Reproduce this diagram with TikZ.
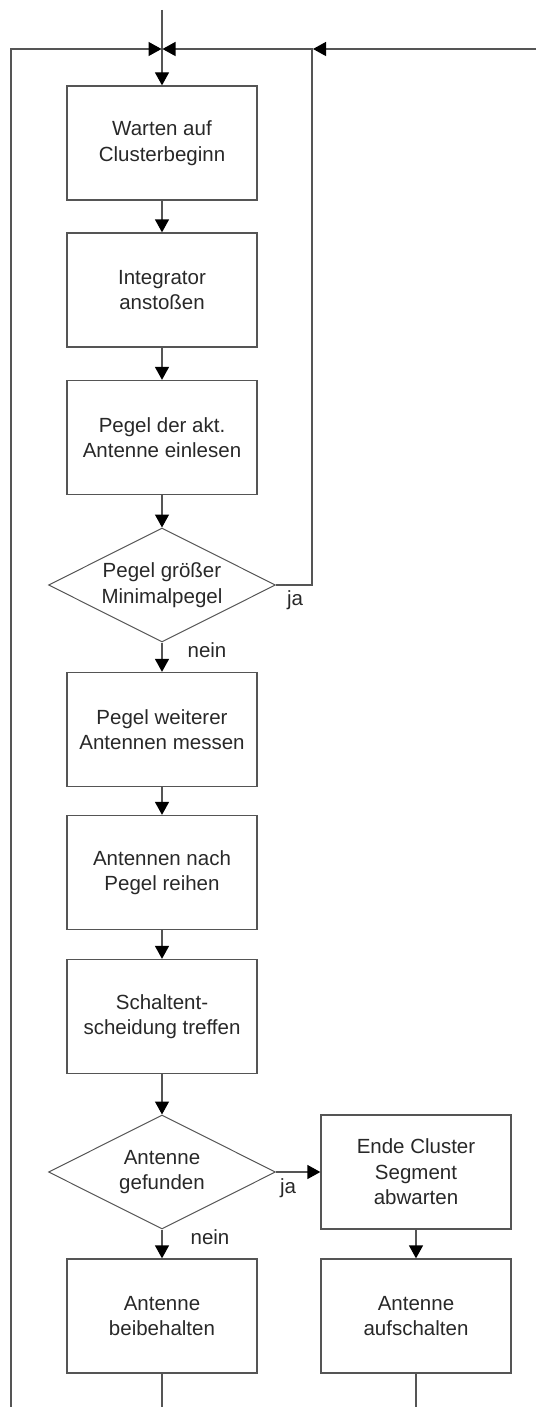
\documentclass[tikz,border=0pt]{standalone}
\usepackage{fontspec}
\setmainfont{Liberation Sans}
\usetikzlibrary{arrows.meta,shapes.geometric}
\definecolor{linegray}{RGB}{85,85,85}
\definecolor{textgray}{RGB}{40,40,40}
\begin{document}
\begin{tikzpicture}[x=1pt,y=-1pt,
  every node/.style={font=\fontsize{20.5pt}{25.5pt}\selectfont, text=textgray, align=center},
  stepbox/.style={draw=linegray, line width=1.3pt, rectangle, minimum width=190pt, minimum height=114pt, inner sep=0pt},
  decision/.style={draw=linegray, line width=1pt, diamond, aspect=2, minimum width=227pt, minimum height=114pt, inner sep=0pt},
  flow/.style={draw=linegray, line width=1.3pt},
  arr/.style={flow, -{Triangle[width=14pt,length=13pt,fill=black,color=black]}},
  lbl/.style={font=\fontsize{20.5pt}{25.5pt}\selectfont}
]
\useasboundingbox (0,0) rectangle (536,1407);

% left column
\node[stepbox] (warten) at (162,143) {Warten auf\\Clusterbeginn};
\node[stepbox] (integ) at (162,290) {Integrator\\anstoßen};
\node[stepbox] (einlesen) at (162,437.5) {Pegel der akt.\\Antenne einlesen};
\node[decision] (groesser) at (162,585) {Pegel größer\\Minimalpegel};
\node[stepbox] (messen) at (162,729.5) {Pegel weiterer\\Antennen messen};
\node[stepbox] (reihen) at (162,872.5) {Antennen nach\\Pegel reihen};
\node[stepbox] (schalt) at (162,1016.5) {Schaltent-\\scheidung treffen};
\node[decision] (gefunden) at (162,1172) {Antenne\\gefunden};
\node[stepbox] (beibeh) at (162,1316) {Antenne\\beibehalten};

% right column
\node[stepbox] (ende) at (416,1172) {Ende Cluster\\Segment\\abwarten};
\node[stepbox] (aufsch) at (416,1316) {Antenne\\aufschalten};

% loop coordinates
\coordinate (topin) at (162,10);
\coordinate (merge) at (162,49);
\coordinate (leftbot) at (11,1407);
\coordinate (leftcorner) at (11,49);
\coordinate (rightin) at (536,49);
\coordinate (jacorner) at (312,49);
\coordinate (jaside) at (312,585);
\coordinate (beibehout) at (162,1407);
\coordinate (aufschout) at (416,1407);

% main chain
\draw[arr] (topin) -- (warten.north);
\draw[arr] (warten) -- (integ);
\draw[arr] (integ) -- (einlesen);
\draw[arr] (einlesen) -- (groesser.north);
\draw[arr] (groesser.south) -- (messen);
\draw[arr] (messen) -- (reihen);
\draw[arr] (reihen) -- (schalt);
\draw[arr] (schalt) -- (gefunden.north);
\draw[arr] (gefunden.south) -- (beibeh);
\draw[arr] (gefunden.east) -- (ende.west);
\draw[arr] (ende) -- (aufsch);

% outputs running off the bottom
\draw[flow] (beibeh.south) -- (beibehout);
\draw[flow] (aufsch.south) -- (aufschout);

% return loops into the top
\draw[arr] (leftbot) -- (leftcorner) -- ([xshift=-0.5pt]merge);
\draw[arr] (groesser.east) -- (jaside) -- (jacorner) -- ([xshift=0.5pt]merge);
\draw[arr] (rightin) -- ([xshift=1pt]jacorner);

% branch labels
\node[lbl] at (295,600) {ja};
\node[lbl] at (207,650) {nein};
\node[lbl] at (288,1188) {ja};
\node[lbl] at (210,1237) {nein};
\end{tikzpicture}
\end{document}
